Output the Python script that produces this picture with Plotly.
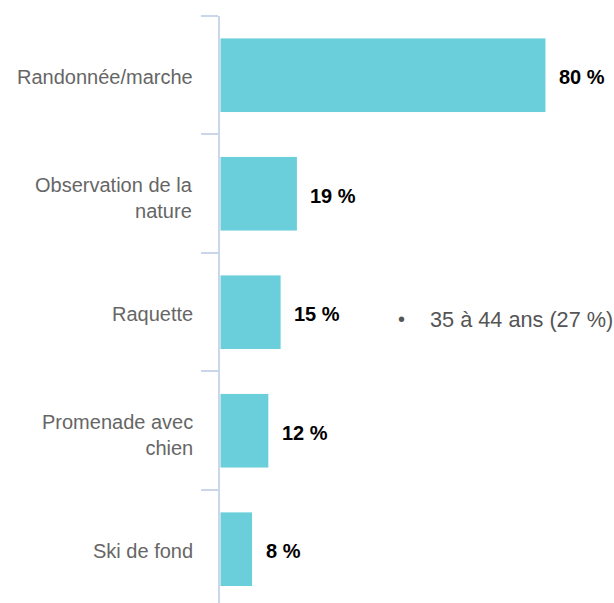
import plotly.graph_objects as go

categories = ["Randonnée/marche", "Observation de la<br>nature", "Raquette", "Promenade avec<br>chien", "Ski de fond"]
values = [80, 19, 15, 12, 8]
value_labels = ["80 %", "19 %", "15 %", "12 %", "8 %"]
note_text = "35 à 44 ans (27 %)"
note_category = "Raquette"
note_x = 43.2

FONT = "Liberation Sans, Arial, sans-serif"

fig = go.Figure()
fig.add_trace(go.Bar(
    y=categories, x=values, orientation="h",
    marker=dict(color="#6BCFDB", line=dict(color="#FFFFFF", width=1)),
    hoverinfo="skip",
))

for c, v, t in zip(categories, values, value_labels):
    fig.add_annotation(x=v, y=c, text="<b>" + t + "</b>", showarrow=False,
                       xanchor="left", xshift=11, yshift=-2,
                       font=dict(family=FONT, size=20, color="#000000"))

# category labels drawn as annotations for precise placement
for c in categories:
    fig.add_annotation(x=0, xref="paper", y=c, text=c, showarrow=False,
                       xanchor="right", align="right", xshift=-25,
                       yshift=-4 if "<br>" in c else -2,
                       font=dict(family=FONT, size=20, color="#666666"))

fig.add_annotation(x=note_x, y=note_category, text="•", showarrow=False, xanchor="left",
                   yshift=-7, font=dict(family=FONT, size=20, color="#555555"))
fig.add_annotation(x=note_x, y=note_category, text=note_text, showarrow=False, xanchor="left",
                   xshift=32, yshift=-7, font=dict(family=FONT, size=21.7, color="#555555"))

fig.update_layout(
    width=614, height=603,
    margin=dict(l=220, r=0, t=16, b=0),
    plot_bgcolor="#FFFFFF", paper_bgcolor="#FFFFFF",
    bargap=0.37, showlegend=False,
    font=dict(family=FONT),
)
fig.update_xaxes(range=[0, 96.7], visible=False, showgrid=False, zeroline=False)
fig.update_yaxes(
    type="category", range=[4.454, -0.5],
    showline=True, linecolor="#CCD6EB", linewidth=1.5,
    ticks="outside", tickson="boundaries", ticklen=17, tickcolor="#CCD6EB", tickwidth=1.5,
    showgrid=False, zeroline=False, showticklabels=False,
)

fig.write_html("out.html", config={"displayModeBar": False},
               post_script="document.body.style.margin='0';document.body.style.overflow='hidden';")
